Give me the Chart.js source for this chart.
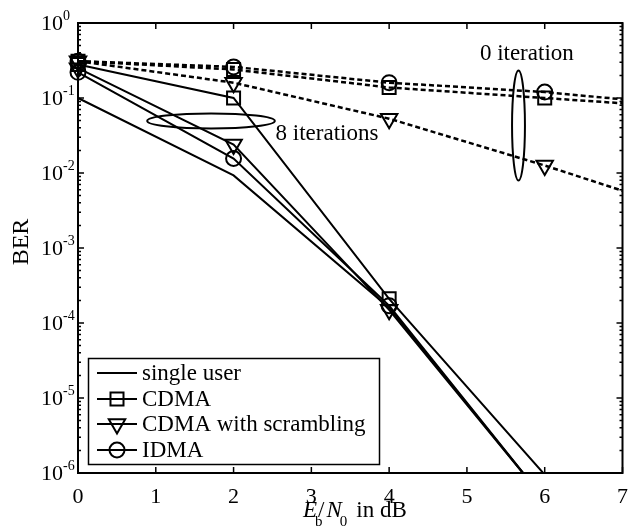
<!DOCTYPE html>
<html>
<head>
<meta charset="utf-8">
<script src="https://cdn.jsdelivr.net/npm/chart.js@4/dist/chart.umd.min.js"></script>
<style>
  html, body { margin: 0; padding: 0; background: #fff; }
  #wrap { width: 634px; height: 530px; }
</style>
</head>
<body>
<div id="wrap"><canvas id="berChart" width="634" height="530"></canvas></div>
<script>
// Eb/N0 points (dB)
const snrDashed = [0, 2, 4, 6, 7];
const snrSolid = [0, 2, 4, 6];

// 0 iteration (dashed)
const cdma0 = [0.31, 0.24, 0.138, 0.1, 0.085];
const scrambled0 = [0.31, 0.16, 0.053, 0.0126, 0.0058];
const idma0 = [0.31, 0.26, 0.16, 0.12, 0.096];

// 8 iterations (solid)
const singleUser = [0.1, 0.0093, 1.6e-4, 4.4e-7];
const cdma8 = [0.28, 0.1, 2.1e-4, 9.5e-7];
const scrambled8 = [0.25, 0.024, 1.5e-4, 4.4e-7];
const idma8 = [0.22, 0.0156, 1.7e-4, 4.4e-7];

const xTicks = [0, 1, 2, 3, 4, 5, 6, 7];
const yExponents = [0, -1, -2, -3, -4, -5, -6];
const legendLabels = ['single user', 'CDMA', 'CDMA with scrambling', 'IDMA'];
const legendStyles = [false, 'rect', 'triangle', 'circle'];

const FONT = '"Liberation Serif", "Times New Roman", serif';
const markerRadius = { rect: 9.2, triangle: 9.5, circle: 7.5 };

function toPoints(xs, ys) {
    return ys.map((y, i) => ({ x: xs[i], y: y }));
}

function makeSeries(label, xs, ys, style, dashed) {
    const r = style ? markerRadius[style] : 0;
    return {
        label: label,
        data: toPoints(xs, ys),
        borderColor: '#000',
        borderWidth: dashed ? 2.5 : 2,
        borderDash: dashed ? [5, 3] : [],
        pointStyle: style || 'circle',
        pointRotation: style === 'triangle' ? 180 : 0,
        pointRadius: (c) => (!style || c.raw.x >= 7 || c.raw.y <= 1e-6) ? 0 : r,
        pointBorderWidth: 2,
        pointBorderColor: '#000',
        pointBackgroundColor: 'rgba(0,0,0,0)',
        tension: 0,
        fill: false,
        clip: { left: 14, top: 14, right: 0, bottom: 0 }
    };
}

function drawMarker(ctx, style, x, y) {
    if (!style) return;
    ctx.save();
    ctx.strokeStyle = '#000';
    ctx.fillStyle = 'rgba(0,0,0,0)';
    ctx.lineWidth = 2;
    Chart.helpers.drawPoint(ctx, {
        pointStyle: style,
        radius: markerRadius[style],
        rotation: style === 'triangle' ? 180 : 0,
        borderWidth: 2
    }, x, y);
    ctx.restore();
}

const framePlugin = {
    id: 'matlabFrame',
    afterDatasetsDraw(chart) {
        const ctx = chart.ctx;
        const xs = chart.scales.x;
        const ys = chart.scales.y;
        const { left, right, top, bottom } = chart.chartArea;

        ctx.save();
        ctx.strokeStyle = '#000';
        ctx.fillStyle = '#000';

        // ticks
        ctx.lineWidth = 1.5;
        ctx.beginPath();
        xTicks.forEach(v => {
            const px = xs.getPixelForValue(v);
            ctx.moveTo(px, bottom); ctx.lineTo(px, bottom - 6);
            ctx.moveTo(px, top); ctx.lineTo(px, top + 6);
        });
        yExponents.forEach(e => {
            const py = ys.getPixelForValue(Math.pow(10, e));
            ctx.moveTo(left, py); ctx.lineTo(left + 6, py);
            ctx.moveTo(right, py); ctx.lineTo(right - 6, py);
            if (e > -6) {
                for (let m = 2; m <= 9; m++) {
                    const pm = ys.getPixelForValue(m * Math.pow(10, e - 1));
                    ctx.moveTo(left, pm); ctx.lineTo(left + 3, pm);
                    ctx.moveTo(right, pm); ctx.lineTo(right - 3, pm);
                }
            }
        });
        ctx.stroke();

        // frame
        ctx.lineWidth = 2;
        ctx.strokeRect(left, top, right - left, bottom - top);

        // x tick labels
        ctx.font = '22px ' + FONT;
        ctx.textAlign = 'center';
        ctx.textBaseline = 'alphabetic';
        xTicks.forEach(v => {
            ctx.fillText(String(v), xs.getPixelForValue(v), bottom + 30);
        });

        // y tick labels 10^e
        yExponents.forEach(e => {
            const py = ys.getPixelForValue(Math.pow(10, e));
            ctx.font = '22px ' + FONT;
            ctx.textAlign = 'right';
            ctx.fillText('10', left - 15, py + 7);
            ctx.font = '14px ' + FONT;
            ctx.textAlign = 'left';
            ctx.fillText(e === 0 ? '0' : '-' + (-e), left - 15, py - 3);
        });

        // y title
        ctx.save();
        ctx.translate(28, 242);
        ctx.rotate(-Math.PI / 2);
        ctx.font = '24px ' + FONT;
        ctx.textAlign = 'center';
        ctx.fillText('BER', 0, 0);
        ctx.restore();

        // x title: E_b / N_0 in dB
        let tx = 303;
        const base = 517;
        ctx.textAlign = 'left';
        ctx.font = 'italic 23px ' + FONT;
        ctx.fillText('E', tx, base);
        tx += ctx.measureText('E').width - 2;
        ctx.font = '15px ' + FONT;
        ctx.fillText('b', tx, base + 9);
        tx += 3;
        ctx.font = '23px ' + FONT;
        ctx.fillText('/', tx, base);
        tx += ctx.measureText('/').width + 2;
        ctx.font = 'italic 23px ' + FONT;
        ctx.fillText('N', tx, base);
        tx += ctx.measureText('N').width - 2;
        ctx.font = '15px ' + FONT;
        ctx.fillText('0', tx, base + 9);
        tx += ctx.measureText('0').width + 9;
        ctx.font = '23px ' + FONT;
        ctx.fillText('in dB', tx, base);

        // annotations
        ctx.lineWidth = 2;
        const e8 = {
            cx: xs.getPixelForValue(1.71),
            x0: xs.getPixelForValue(0.89),
            yt: ys.getPixelForValue(0.0623),
            yb: ys.getPixelForValue(0.0393)
        };
        ctx.beginPath();
        ctx.ellipse(e8.cx, (e8.yt + e8.yb) / 2, e8.cx - e8.x0, (e8.yb - e8.yt) / 2, 0, 0, Math.PI * 2);
        ctx.stroke();
        const e0 = {
            cx: xs.getPixelForValue(5.663),
            x0: xs.getPixelForValue(5.58),
            yt: ys.getPixelForValue(0.233),
            yb: ys.getPixelForValue(0.00797)
        };
        ctx.beginPath();
        ctx.ellipse(e0.cx, (e0.yt + e0.yb) / 2, e0.cx - e0.x0, (e0.yb - e0.yt) / 2, 0, 0, Math.PI * 2);
        ctx.stroke();

        ctx.font = '23px ' + FONT;
        ctx.textBaseline = 'middle';
        ctx.textAlign = 'center';
        ctx.fillText('0 iteration', xs.getPixelForValue(5.77), ys.getPixelForValue(0.39));
        ctx.textAlign = 'left';
        ctx.fillText('8 iterations', xs.getPixelForValue(2.54), ys.getPixelForValue(0.0327));

        // legend
        const lx = 88.5, ly = 358.5, lw = 291, lh = 106;
        ctx.fillStyle = '#fff';
        ctx.fillRect(lx, ly, lw, lh);
        ctx.lineWidth = 1.5;
        ctx.strokeRect(lx, ly, lw, lh);
        const rows = [373, 399, 424, 450];
        legendLabels.forEach((label, i) => {
            const ry = rows[i];
            ctx.lineWidth = 2;
            ctx.beginPath();
            ctx.moveTo(97, ry);
            ctx.lineTo(137, ry);
            ctx.stroke();
            drawMarker(ctx, legendStyles[i], 117, ry);
            ctx.fillStyle = '#000';
            ctx.font = '23px ' + FONT;
            ctx.textAlign = 'left';
            ctx.textBaseline = 'middle';
            ctx.fillText(label, 142, ry + 1);
        });

        ctx.restore();
    }
};

const ctx = document.getElementById('berChart').getContext('2d');
new Chart(ctx, {
    type: 'line',
    data: {
        datasets: [
            makeSeries('CDMA, 0 iteration', snrDashed, cdma0, 'rect', true),
            makeSeries('CDMA with scrambling, 0 iteration', snrDashed, scrambled0, 'triangle', true),
            makeSeries('IDMA, 0 iteration', snrDashed, idma0, 'circle', true),
            makeSeries('single user', snrSolid, singleUser, false, false),
            makeSeries('CDMA, 8 iterations', snrSolid, cdma8, 'rect', false),
            makeSeries('CDMA with scrambling, 8 iterations', snrSolid, scrambled8, 'triangle', false),
            makeSeries('IDMA, 8 iterations', snrSolid, idma8, 'circle', false)
        ]
    },
    options: {
        responsive: false,
        animation: false,
        devicePixelRatio: 1,
        layout: { padding: { left: 78, top: 23, right: 5, bottom: 57 } },
        scales: {
            x: { type: 'linear', min: 0, max: 7, display: false },
            y: { type: 'logarithmic', min: 1e-6, max: 1, display: false }
        },
        plugins: {
            legend: { display: false },
            tooltip: { enabled: false }
        }
    },
    plugins: [framePlugin]
});
</script>
</body>
</html>
